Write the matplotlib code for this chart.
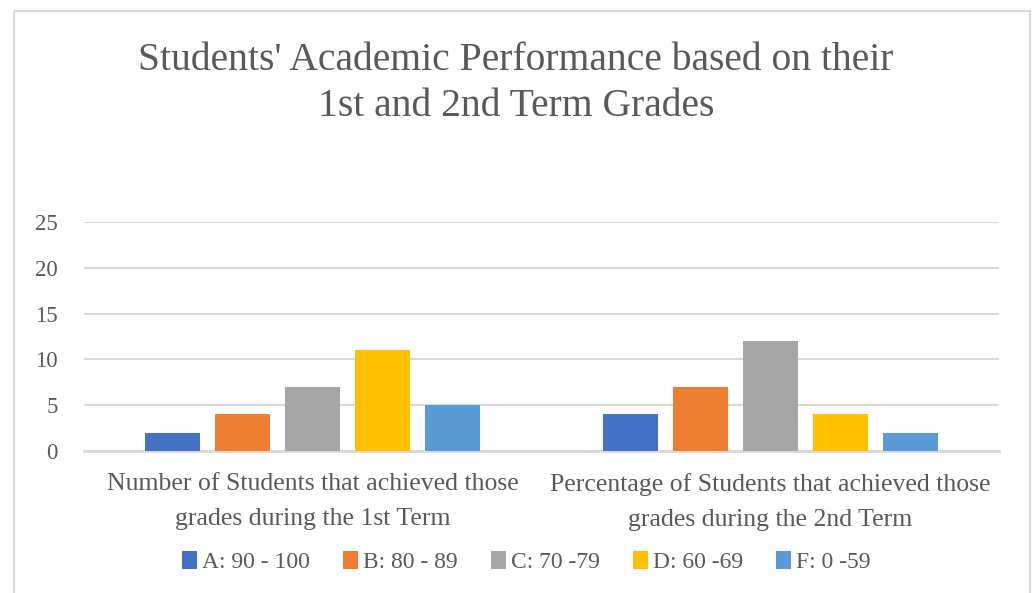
import numpy as np
import matplotlib
matplotlib.use('Agg')
import matplotlib.pyplot as plt
from matplotlib.patches import Rectangle

# Chart data
groups = ['Number of Students that achieved those\ngrades during the 1st Term',
          'Percentage of Students that achieved those\ngrades during the 2nd Term']
grades = ['A: 90 - 100', 'B: 80 - 89', 'C: 70 -79', 'D: 60 -69', 'F: 0 -59']
term1 = [2, 4, 7, 11, 5]
term2 = [4, 7, 12, 4, 2]
colors = ['#4472C4', '#ED7D31', '#A5A5A5', '#FFC000', '#5B9BD5']

text_color = '#595959'
grid_color = '#D9D9D9'
plt.rcParams['font.family'] = ['Liberation Serif', 'DejaVu Serif']

W, H = 1032, 593
fig = plt.figure(figsize=(W / 100, H / 100), dpi=100)

# plot area in pixels: x 84..999, y 222..451
ax = fig.add_axes([84 / W, 1 - 451 / H, (999 - 84) / W, (451 - 222) / H])

x = np.arange(len(groups))
bw = 0.12
step = 0.153
values = np.array([term1, term2])
for i, g in enumerate(grades):
    ax.bar(x + (i - 2) * step, values[:, i], width=bw, color=colors[i],
           label=g, zorder=3)

ax.set_xlim(-0.5, 1.5)
ax.set_ylim(0, 25)
ax.set_yticks(range(0, 26, 5))
ax.yaxis.grid(True, color=grid_color, linewidth=1.5, zorder=0)
ax.set_xticks(x)
ax.set_xticklabels(groups, fontsize=18.5, color=text_color, linespacing=1.75)
ax.tick_params(axis='y', labelsize=16.5, colors=text_color, length=0, pad=19)
ax.tick_params(axis='x', length=0, pad=16)
for s in ['top', 'right', 'left']:
    ax.spines[s].set_visible(False)
ax.spines['bottom'].set_color(grid_color)
ax.spines['bottom'].set_linewidth(2)

fig.text(0.5, 1 - 60 / H, "Students' Academic Performance based on their",
         ha='center', va='center', fontsize=28.5, color=text_color)
fig.text(0.5, 1 - 107 / H, '1st and 2nd Term Grades',
         ha='center', va='center', fontsize=28.5, color=text_color)

fig.legend(loc='center', bbox_to_anchor=(0.51, 1 - 562 / H), ncol=5,
           frameon=False, fontsize=17, labelcolor=text_color,
           handlelength=0.65, handleheight=0.8, handletextpad=0.2,
           columnspacing=1.4)

# chart border
fig.patches.append(Rectangle((13.5 / W, -0.05), (1029.5 - 13.5) / W,
                             1.05 - 10.5 / H, transform=fig.transFigure,
                             fill=False, edgecolor=grid_color, linewidth=1.5))

fig.savefig('out.png', dpi=100, facecolor='white')
